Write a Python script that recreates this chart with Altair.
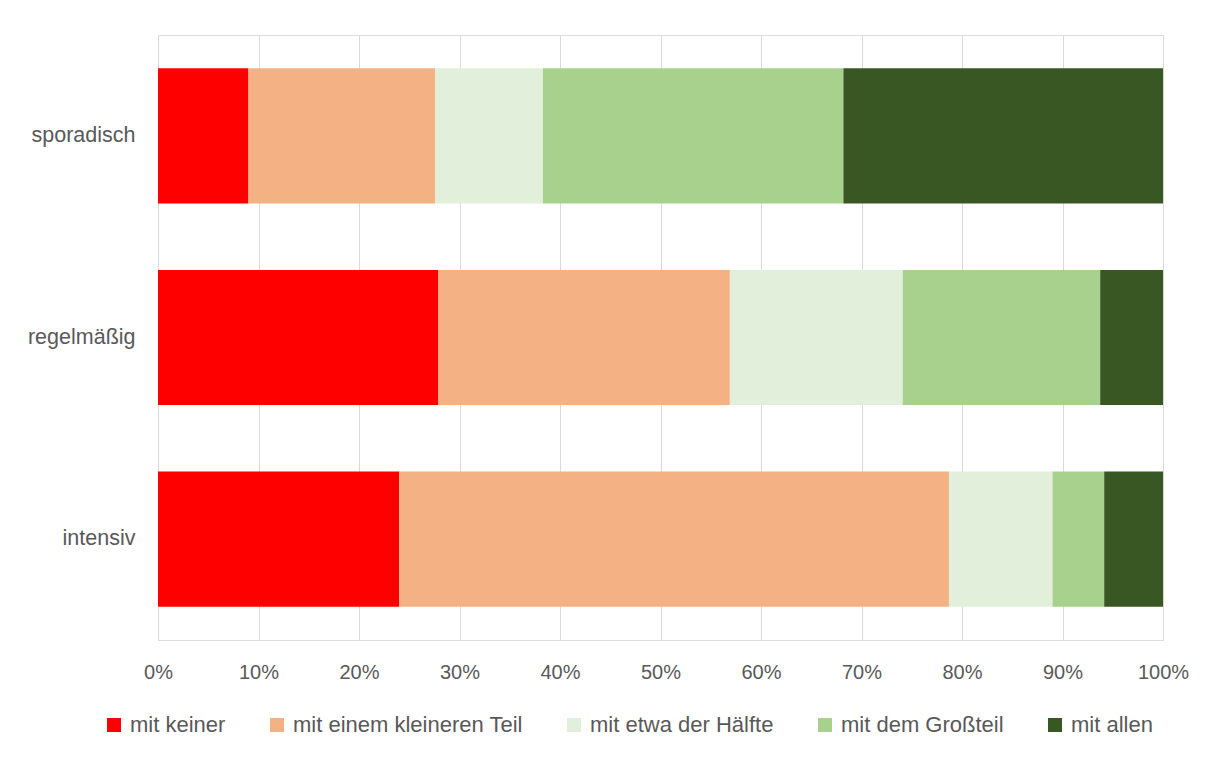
import altair as alt
import pandas as pd

groups = ["sporadisch", "regelmäßig", "intensiv"]
categories = ["mit keiner", "mit einem kleineren Teil", "mit etwa der Hälfte", "mit dem Großteil", "mit allen"]
colors = ["#FF0000", "#F4B183", "#E2EFDA", "#A9D18E", "#385723"]
sporadisch = [9.0, 18.6, 10.7, 29.9, 31.8]
regelmaessig = [27.9, 29.0, 17.2, 19.65, 6.25]
intensiv = [24.0, 54.7, 10.3, 5.15, 5.85]
tick_values = [0, 0.1, 0.2, 0.3, 0.4, 0.5, 0.6, 0.7, 0.8, 0.9, 1.0]

rows = []
for g, vals in zip(groups, [sporadisch, regelmaessig, intensiv]):
    for i, (c, v) in enumerate(zip(categories, vals)):
        rows.append({"Gruppe": g, "Kategorie": c, "Anteil": v / 100, "Ordnung": i})
df = pd.DataFrame(rows)

FONT = "Liberation Sans"
TXT = "#595959"

chart = alt.Chart(df).mark_bar().encode(
    y=alt.Y("Gruppe:N", sort=groups, title=None,
            scale=alt.Scale(paddingInner=0.33, paddingOuter=0.165),
            axis=alt.Axis(domain=False, ticks=False, grid=False, labelPadding=23,
                          labelFontSize=21.5, labelColor=TXT, labelFont=FONT)),
    x=alt.X("Anteil:Q", stack="zero", title=None,
            scale=alt.Scale(domain=[0, 1], nice=False),
            axis=alt.Axis(format=".0%", values=tick_values, domain=False, ticks=False,
                          grid=True, gridColor="#D9D9D9", gridWidth=1, labelFlush=False,
                          labelPadding=22, labelFontSize=20, labelColor=TXT, labelFont=FONT)),
    color=alt.Color("Kategorie:N", sort=categories,
                    scale=alt.Scale(domain=categories, range=colors),
                    legend=alt.Legend(title=None, orient="none", direction="horizontal",
                                      legendX=-55, legendY=679, labelLimit=600,
                                      symbolType="square", symbolSize=196, symbolStrokeWidth=0,
                                      labelFontSize=22, labelColor=TXT, labelFont=FONT,
                                      labelOffset=5, columnPadding=40)),
    order=alt.Order("Ordnung:Q"),
    tooltip=["Gruppe", "Kategorie", alt.Tooltip("Anteil:Q", format=".1%")],
).properties(
    width=1005,
    height=605,
    autosize=alt.AutoSizeParams(type="none"),
    padding={"left": 150, "top": 27, "right": 42, "bottom": 100},
).configure_view(
    strokeWidth=0, strokeOpacity=0, stroke="transparent"
).configure_axis(domain=False).configure(background="white")

chart.save("out.html", embed_options={"renderer": "svg", "actions": False})
